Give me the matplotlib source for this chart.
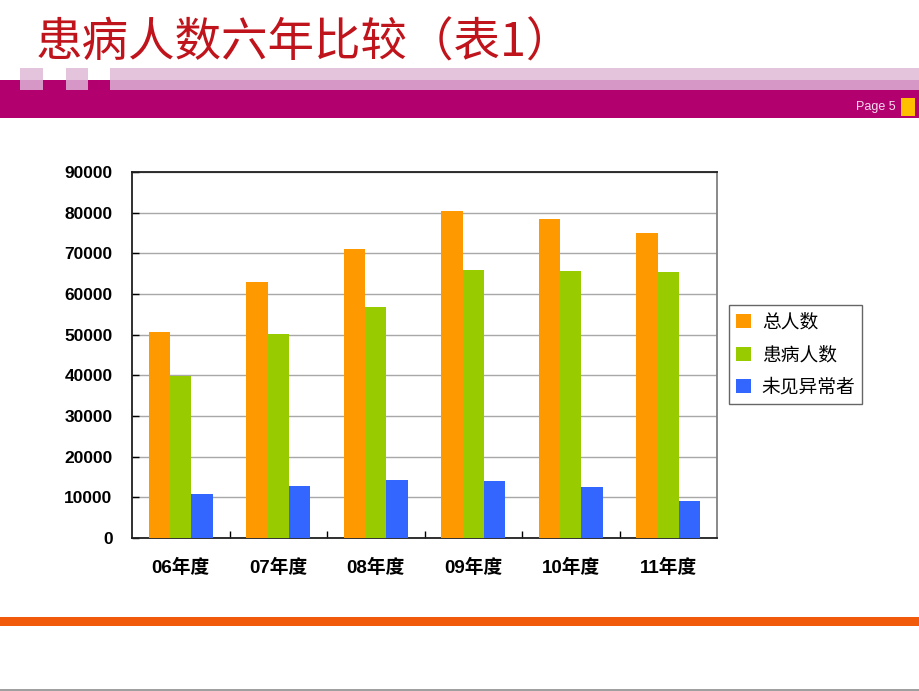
import numpy as np
import matplotlib
matplotlib.use("Agg")
import matplotlib.pyplot as plt
from matplotlib.patches import Rectangle

plt.rcParams['font.family'] = ['Noto Sans CJK SC', 'DejaVu Sans']

# data
years = ['06年度', '07年度', '08年度', '09年度', '10年度', '11年度']
total = [50700, 63000, 71100, 80400, 78400, 75000]
sick = [39800, 50200, 56800, 65900, 65700, 65500]
normal = [10800, 12800, 14300, 14000, 12500, 9100]
series_names = ['总人数', '患病人数', '未见异常者']
colors = ['#FF9900', '#99CC00', '#3366FF']

W, H = 920, 691
fig = plt.figure(figsize=(W / 100, H / 100), dpi=100)


def box(x, y, w, h, color, **kw):
    # pixel rect (top-left origin) -> figure patch
    fig.patches.append(Rectangle((x / W, 1 - (y + h) / H), w / W, h / H,
                                 transform=fig.transFigure, color=color,
                                 lw=0, **kw))


# slide header
box(0, 80, W, 38, '#B3006F')
box(20, 68, 23, 12, '#E4C4DC')
box(66, 68, 22, 12, '#E4C4DC')
box(110, 68, W - 110, 12, '#E4C4DC')
box(20, 80, 23, 10, '#D696C6')
box(66, 80, 22, 10, '#D696C6')
box(110, 80, W - 110, 10, '#D696C6')
box(901, 98, 14, 18, '#FFC000')
fig.text(36 / W, 1 - 43 / H, '患病人数六年比较（表1）', fontsize=33.5,
         color='#C0141C', va='center', ha='left')
fig.text(896 / W, 1 - 107 / H, 'Page 5', fontsize=9, color='#F6DDF0',
         va='center', ha='right', family=['Liberation Sans', 'DejaVu Sans'])

# footer lines
box(0, 617, W, 9, '#F05A0A')
box(0, 689, W, 2, '#A0A0A0')

# chart
ax = fig.add_axes([132 / W, (H - 538) / H, 585 / W, 366 / H])
x = np.arange(len(years))
bw = 0.22
for i, (vals, name, c) in enumerate(zip([total, sick, normal], series_names, colors)):
    ax.bar(x + (i - 1) * bw, vals, bw, color=c, label=name, zorder=3)

ax.set_xlim(-0.5, len(years) - 0.5)
ax.set_ylim(0, 90000)
ax.set_yticks(np.arange(0, 90001, 10000))
ax.set_yticklabels([str(v) for v in range(0, 90001, 10000)],
                   fontsize=12.5, fontweight='bold',
                   family=['Liberation Sans', 'DejaVu Sans'])
ax.set_xticks(x)
ax.set_xticklabels(years, fontsize=13.5, fontweight='semibold',
                   family=['Liberation Sans', 'Noto Sans CJK SC'])
ax.set_xticks(np.arange(0.5, len(years) - 0.5), minor=True)
ax.tick_params(axis='x', which='major', length=0, pad=15)
ax.tick_params(axis='x', which='minor', direction='in', length=5, width=1)
ax.tick_params(axis='y', direction='in', length=5, width=1, pad=14)
ax.grid(axis='y', color='#A8A8A8', lw=1, zorder=0)
for s in ax.spines.values():
    s.set_color('#202020')
    s.set_linewidth(1.3)
ax.spines['right'].set_color('#808080')

leg = ax.legend(loc='upper left', bbox_to_anchor=(729 / W, 1 - 305 / H),
                bbox_transform=fig.transFigure, fontsize=13.5, frameon=True,
                fancybox=False, handlelength=0.85, handleheight=0.75,
                handletextpad=0.55, labelspacing=0.62, borderpad=0.35,
                borderaxespad=0)
leg.get_frame().set_edgecolor('#404040')
leg.get_frame().set_linewidth(1)

fig.savefig('out.png', dpi=100)
